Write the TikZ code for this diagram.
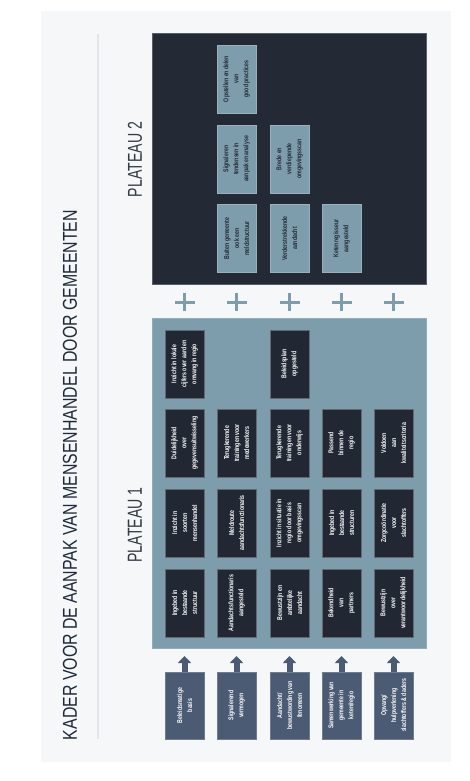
\documentclass[tikz,border=0pt]{standalone}
\usepackage{fontspec}
\usepackage{graphicx}
\setmainfont{Liberation Sans}
\newfontfamily\cond{Liberation Sans}[FakeStretch=0.8]
\newfontfamily\condb{Liberation Sans Bold}[FakeStretch=0.74]
\usetikzlibrary{arrows.meta}
\definecolor{bgcol}{HTML}{F6F7F9}
\definecolor{ponecol}{HTML}{7D9DAD}
\definecolor{ptwocol}{HTML}{232A35}
\definecolor{darkbox}{HTML}{212833}
\definecolor{basecol}{HTML}{4A5B73}
\definecolor{titlecol}{HTML}{1E2A3A}
\definecolor{labcol}{HTML}{333B45}
\definecolor{linecol}{HTML}{E4E6E9}
\tikzset{
  boxbase/.style={rotate=90, minimum width=68pt, minimum height=39pt, inner sep=1pt,
    align=center, font=\condb\fontsize{7}{10}\selectfont},
  darkcell/.style={boxbase, fill=darkbox, draw=darkbox!70!white, line width=0.4pt, text=white},
  lightcell/.style={boxbase, fill=ponecol, draw=ponecol!80!white, line width=0.4pt, text=darkbox},
  basecell/.style={boxbase, minimum width=67pt, fill=basecol, draw=basecol!80!white, line width=0.4pt, text=white},
  uparrow/.style={draw=basecol, line width=6pt, -{Triangle[length=7pt,width=13pt]}},
  plusbar/.style={draw=ponecol, line width=3pt},
  biglabel/.style={rotate=90, inner sep=0pt},
}
\begin{document}
\begin{tikzpicture}[x=1pt,y=-1pt]
\useasboundingbox (0,0) rectangle (470,781);
\fill[white] (0,0) rectangle (470,781);
\fill[bgcol] (41,11) rectangle (451,762);
\draw[linecol, line width=1.5pt] (98,34) -- (98,739);

% title and labels
\node[biglabel, text=titlecol] (title) at (70,475) {\resizebox{530pt}{14pt}{\cond KADER VOOR DE AANPAK VAN MENSENHANDEL DOOR GEMEENTEN}};
\node[biglabel, text=labcol] (ltwo) at (135,159.5) {\resizebox{75pt}{14pt}{\cond PLATEAU 2}};
\node[biglabel, text=labcol] (lone) at (135,525) {\resizebox{75pt}{14pt}{\cond PLATEAU 1}};

% panels
\node[fill=ptwocol, draw=ptwocol!75!white, line width=0.5pt, minimum width=274pt, minimum height=251pt, inner sep=0pt] (ptwo) at (289,158.5) {};
\node[fill=ponecol, draw=ponecol!85!white, line width=0.5pt, minimum width=274pt, minimum height=330pt, inner sep=0pt] (pone) at (289,483) {};

% plateau 2 cells
\node[lightcell] (q21) at (236.5,79) {Opstellen en delen\\van\\good practices};
\node[lightcell] (q12) at (236.5,159) {Signaleren\\tendensen in\\aanpak en analyse};
\node[lightcell] (q13) at (289.5,159) {Brede en\\verdiepende\\omgevingsscan};
\node[lightcell] (q02) at (236.5,238.5) {Buiten gemeente\\ook een\\meldstructuur};
\node[lightcell] (q03) at (289.5,238.5) {Verderstrekkende\\aandacht};
\node[lightcell] (q04) at (341.5,238.5) {Ketenregisseur\\aangesteld};

% plus signs
\foreach \px in {184.5,236.5,289.5,341.5,393.5}{
  \draw[plusbar] (\px-10,302) -- (\px+10,302);
  \draw[plusbar] (\px,293) -- (\px,311);
}

% plateau 1 cells
\node[darkcell] (d41) at (184.5,364) {Inzicht in lokale\\cijfers over aard en\\omvang in regio};
\node[darkcell] (d43) at (289.5,364) {Beleidsplan\\opgesteld};

\node[darkcell] (d31) at (184.5,443) {Duidelijkheid\\over\\gegevensuitwisseling};
\node[darkcell] (d32) at (236.5,443) {Terugkerende\\trainingen voor\\medewerkers};
\node[darkcell] (d33) at (289.5,443) {Terugkerende\\trainingen voor\\onderwijs};
\node[darkcell] (d34) at (341.5,443) {Passend\\binnen de\\regio};
\node[darkcell] (d35) at (393.5,443) {Voldoen\\aan\\kwaliteitscriteria};

\node[darkcell] (d21) at (184.5,523) {Inzicht in\\soorten\\mensenhandel};
\node[darkcell] (d22) at (236.5,523) {Meldroute\\aandachtsfunctionaris};
\node[darkcell] (d23) at (289.5,523) {Inzicht in situatie in\\regio door basis\\omgevingsscan};
\node[darkcell] (d24) at (341.5,523) {Ingebed in\\bestaande\\structuren};
\node[darkcell] (d25) at (393.5,523) {Zorgco\"ordinatie\\voor\\slachtoffers};

\node[darkcell] (d11) at (184.5,603) {Ingebed in\\bestaande\\structuur};
\node[darkcell] (d12) at (236.5,603) {Aandachtsfunctionaris\\aangesteld};
\node[darkcell] (d13) at (289.5,603) {Bewustzijn en\\ambtelijke\\aandacht};
\node[darkcell] (d14) at (341.5,603) {Bekendheid\\van\\partners};
\node[darkcell] (d15) at (393.5,603) {Bewustzijn\\over\\verantwoordelijkheid};

% base cells
\node[basecell] (b1) at (184.5,705.5) {Beleidsmatige\\basis};
\node[basecell] (b2) at (236.5,705.5) {Signalerend\\vermogen};
\node[basecell] (b3) at (289.5,705.5) {Aandacht/\\bewustwording van\\fenomeen};
\node[basecell] (b4) at (341.5,705.5) {Samenwerking van\\gemeente in\\keten/regio};
\node[basecell] (b5) at (393.5,705.5) {Opvang/\\hulpverlening\\slachtoffers \& daders};

% arrows
\coordinate (t1) at (184.5,656);
\coordinate (t2) at (236.5,656);
\coordinate (t3) at (289.5,656);
\coordinate (t4) at (341.5,656);
\coordinate (t5) at (393.5,656);
\draw[uparrow] (b1.east) -- (t1);
\draw[uparrow] (b2.east) -- (t2);
\draw[uparrow] (b3.east) -- (t3);
\draw[uparrow] (b4.east) -- (t4);
\draw[uparrow] (b5.east) -- (t5);
\end{tikzpicture}
\end{document}
